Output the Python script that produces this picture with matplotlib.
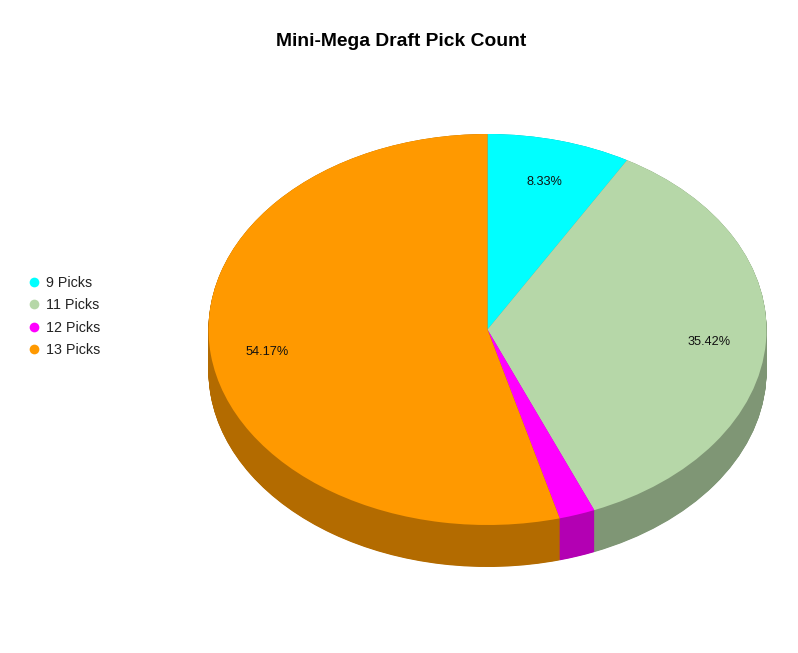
import numpy as np
import matplotlib
matplotlib.use('Agg')
import matplotlib.pyplot as plt
from matplotlib.lines import Line2D

plt.rcParams['font.family'] = ['Liberation Sans', 'DejaVu Sans']

labels = ['9 Picks', '11 Picks', '12 Picks', '13 Picks']
counts = [4, 17, 1, 26]
colors = ['#00FFFF', '#B6D7A8', '#FF00FF', '#FF9900']
side_colors = ['#00B3B3', '#7F9675', '#B300B3', '#B36B00']
title = 'Mini-Mega Draft Pick Count'

W, H = 798, 653
CX, CY = 487.5, 329.5    # pie centre in pixels
RX, RY = 279, 195.5      # ellipse radii in pixels
DEPTH = 42 / RY          # thickness of the pie in data units


def pct_label(p):
    # the small slice has no label
    return f'{p:.2f}%' if p > 5 else ''


fig = plt.figure(figsize=(W / 100, H / 100), dpi=100)
ax = fig.add_axes([0, 0, 1, 1])

# side wall: stack darker pies, bottom first
for d in np.linspace(DEPTH, 0, 90):
    ax.pie(counts, colors=side_colors, center=(0, -d), startangle=90,
           counterclock=False, wedgeprops={'linewidth': 0})

_, _, autotexts = ax.pie(counts, colors=colors, startangle=90, counterclock=False,
                         autopct=pct_label, pctdistance=0.795,
                         wedgeprops={'linewidth': 0},
                         textprops={'fontsize': 9.2, 'color': '#111111'})

# labels sit a little lower than the slice centre line
for t in autotexts:
    t.set_y(t.get_position()[1] - 2.5 / RY)

# ellipse instead of circle
ax.set_aspect('auto')
ax.set_xlim(-CX / RX, (W - CX) / RX)
ax.set_ylim((CY - H) / RY, CY / RY)
ax.axis('off')

fig.text(401 / W, 1 - 41.5 / H, title, ha='center', va='center',
         fontsize=13.9, fontweight='bold', color='black')

handles = [Line2D([], [], linestyle='none', marker='o', markersize=7,
                  markerfacecolor=c, markeredgewidth=0) for c in colors]
fig.legend(handles, labels, loc='center left', bbox_to_anchor=(20 / W, 1 - 316.5 / H),
           frameon=False, fontsize=10.3, labelcolor='#222222', handletextpad=-0.18,
           labelspacing=0.58, borderpad=0, borderaxespad=0)

fig.savefig('out.png', dpi=100)
